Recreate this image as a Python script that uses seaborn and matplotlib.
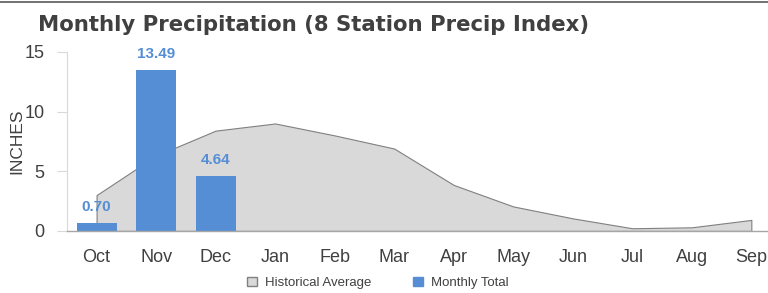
import pandas as pd
import seaborn as sns
import matplotlib.pyplot as plt
from matplotlib.patches import Patch

sns.set_theme(style="white")
plt.rcParams["font.family"] = ["Liberation Sans Narrow", "Liberation Sans", "DejaVu Sans"]

months = ["Oct", "Nov", "Dec", "Jan", "Feb", "Mar", "Apr", "May", "Jun", "Jul", "Aug", "Sep"]
hist_avg = [3.0, 6.3, 8.4, 9.0, 8.0, 6.9, 3.85, 2.05, 1.05, 0.22, 0.3, 0.92]
total_months = ["Oct", "Nov", "Dec"]
monthly_total = [0.70, 13.49, 4.64]

blue = "#558ED5"
gray_fill = "#D9D9D9"
text_col = "#404040"

fig = plt.figure(figsize=(7.68, 2.93), dpi=100)
ax = fig.add_axes([0.087, 0.212, 0.913, 0.611])

# historical average as a filled area behind the bars
xs = list(range(len(months)))
ax.fill_between(xs, hist_avg, 0, color=gray_fill, edgecolor="#808080", linewidth=0.8, zorder=1)

bars_df = pd.DataFrame({"month": total_months, "inches": monthly_total})
sns.barplot(data=bars_df, x="month", y="inches", order=months, color=blue,
            width=0.67, saturation=1, linewidth=0, ax=ax, zorder=2)

for i, v in enumerate(monthly_total):
    ax.text(i, v + 0.75, f"{v:.2f}", ha="center", va="bottom", color=blue,
            fontsize=11, fontweight="bold", zorder=3)

ax.set_xlim(-0.5, 11.28)
ax.set_ylim(0, 15)
ax.set_yticks([0, 5, 10, 15])
ax.set_xlabel("")
ax.set_ylabel("INCHES", fontsize=12.5, color=text_col, labelpad=0)
ax.tick_params(axis="x", length=0, labelsize=13, labelcolor=text_col, pad=13)
ax.tick_params(axis="y", length=7, width=0.8, color="#D9D9D9", labelsize=13,
               labelcolor=text_col, pad=9, left=True)

for s in ["top", "right"]:
    ax.spines[s].set_visible(False)
ax.spines["left"].set_color("#D9D9D9")
ax.spines["left"].set_linewidth(0.8)
ax.spines["bottom"].set_color("#A6A6A6")
ax.spines["bottom"].set_linewidth(1.0)

fig.text(0.05, 0.915, "Monthly Precipitation (8 Station Precip Index)", fontsize=15.3,
         fontweight="bold", color=text_col, family=["DejaVu Sans"], va="center", ha="left")
fig.add_artist(plt.Line2D([0, 1], [0.993, 0.993], color="#595959", linewidth=1.2))

handles = [Patch(facecolor=gray_fill, edgecolor="#808080", label="Historical Average"),
           Patch(facecolor=blue, edgecolor=blue, label="Monthly Total")]
fig.legend(handles=handles, loc="center", bbox_to_anchor=(0.492, 0.035), ncol=2,
           frameon=False, fontsize=9.5, handlelength=0.75, handleheight=0.75,
           columnspacing=3.2, handletextpad=0.6, labelcolor=text_col)

fig.savefig("out.png", dpi=100)
